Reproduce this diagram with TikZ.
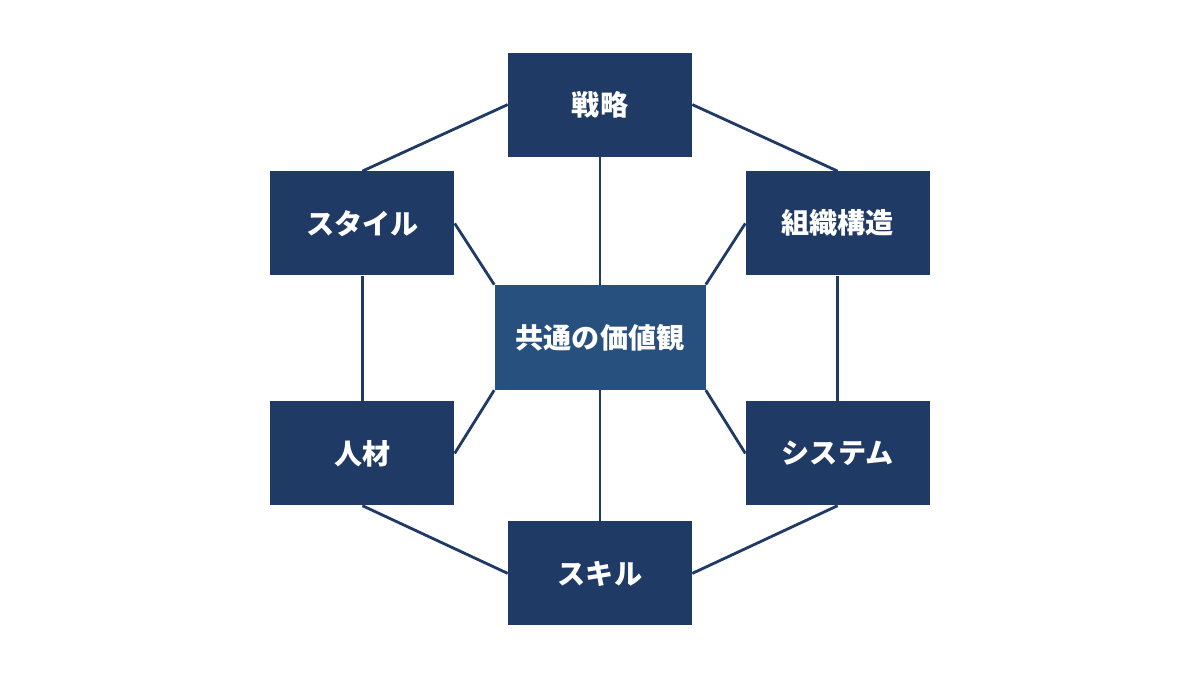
\documentclass[tikz,border=0pt]{standalone}
\usepackage{fontspec}
\newfontfamily\jp{Noto Sans CJK JP}
\definecolor{navy}{HTML}{1F3A64}
\definecolor{core}{HTML}{27507F}

\begin{document}
\begin{tikzpicture}[scale = 1,
  element/.style = {fill = navy, minimum width = 4.6cm, minimum height = 2.6cm, text = white, font = \jp\bfseries\fontsize{20}{24}\selectfont},
  link/.style = {draw = navy, line width = 2pt}]
\useasboundingbox (0.0, 0.0) rectangle (30.0, 16.875);
\node[element] (strategy) at (15.0, 14.26){戦略};
\node[element] (style) at (9.06, 11.29){スタイル};
\node[element] (structure) at (20.94, 11.29){組織構造};
\node[element, fill = core, minimum width = 5.275cm, minimum height = 2.625cm] (values) at (15.0, 8.44){共通の価値観};
\node[element] (staff) at (9.06, 5.54){人材};
\node[element] (systems) at (20.94, 5.54){システム};
\node[element] (skills) at (15.0, 2.54){スキル};
\draw[link] (strategy.west) -- (style.north);
\draw[link] (strategy.east) -- (structure.north);
\draw[link] (style.south) -- (staff.north);
\draw[link] (structure.south) -- (systems.north);
\draw[link] (staff.south) -- (skills.west);
\draw[link] (systems.south) -- (skills.east);
\draw[link] (strategy.south) -- (values.north);
\draw[link] (values.south) -- (skills.north);
\draw[link] (style.east) -- (values.north west);
\draw[link] (structure.west) -- (values.north east);
\draw[link] (staff.east) -- (values.south west);
\draw[link] (systems.west) -- (values.south east);
\end{tikzpicture}
\end{document}
